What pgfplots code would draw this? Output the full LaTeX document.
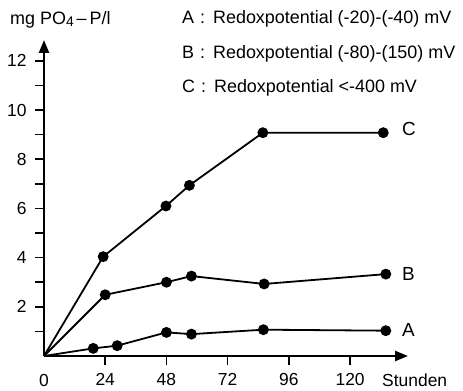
\documentclass[border=0pt]{standalone}
\usepackage{fontspec}
\setmainfont{Liberation Sans}
\usepackage{pgfplots}
\pgfplotsset{compat=1.18}
\usetikzlibrary{arrows.meta}
\begin{document}
\begin{tikzpicture}[x=1bp,y=1bp]
\useasboundingbox (0,0) rectangle (463,390);
\begin{axis}[
  at={(44bp,34bp)}, anchor=origin,
  scale only axis, width=364bp, height=316bp,
  xmin=0, xmax=142.7, ymin=0, ymax=12.85,
  axis lines=left,
  axis line style={line width=2.4bp, -{Triangle[length=13bp,width=10bp]}},
  tick align=outside,
  major tick length=9bp, minor tick length=9bp,
  tick style={line width=1.6bp, black},
  xtick={24,48,72,96,120},
  ytick={2,4,6,8,10,12},
  minor ytick={1,3,5,7,9,11},
  /pgf/number format/assume math mode=true,
  ticklabel style={font=\fontsize{17.5}{17.5}\selectfont},
  xticklabel style={yshift=-5bp},
  yticklabel style={xshift=-5bp},
  clip=false,
]
\addplot[black, line width=1.8bp, mark=*, mark size=4.5bp, mark indices={2,3,4,5,6,7}] coordinates {
(0,0) (19.3,0.31) (28.7,0.42) (48,0.96) (57.8,0.89) (86,1.07) (134,1.03)};
\addplot[black, line width=1.8bp, mark=*, mark size=4.5bp, mark indices={2,3,4,5,6}] coordinates {
(0,0) (24,2.49) (48,3.0) (57.8,3.25) (86.3,2.93) (134,3.33)};
\addplot[black, line width=1.8bp, mark=*, mark size=4.5bp, mark indices={2,3,4,5,6}] coordinates {
(0,0) (23.2,4.04) (47.8,6.1) (57,6.94) (85.8,9.08) (133,9.08)};
\node[anchor=west, inner sep=0, font=\fontsize{19}{19}\selectfont] at (axis cs:140.3,1.06) {A};
\node[anchor=west, inner sep=0, font=\fontsize{19}{19}\selectfont] at (axis cs:140.3,3.33) {B};
\node[anchor=west, inner sep=0, font=\fontsize{19}{19}\selectfont] at (axis cs:140.3,9.25) {C};
\end{axis}
\node[anchor=base, font=\fontsize{17.5}{17.5}\selectfont] at (44,4) {0};
\node[anchor=base west, inner sep=0, font=\fontsize{17.5}{17.5}\selectfont] at (382,4) {Stunden};
\node[anchor=base west, inner sep=0, font=\fontsize{18}{18}\selectfont] at (10,366) {mg PO\raisebox{-0.25ex}{\fontsize{14}{14}\selectfont 4}\,–\,P/l};
\node[anchor=base west, inner sep=0, font=\fontsize{18}{18}\selectfont] at (182,367) {A\hspace{6bp}:\hspace{3bp} Redoxpotential (-20)-(-40) mV};
\node[anchor=base west, inner sep=0, font=\fontsize{18}{18}\selectfont] at (182,332) {B\hspace{6bp}:\hspace{3bp} Redoxpotential (-80)-(150) mV};
\node[anchor=base west, inner sep=0, font=\fontsize{18}{18}\selectfont] at (182,298) {C\hspace{6bp}:\hspace{3bp} Redoxpotential <-400 mV};
\end{tikzpicture}
\end{document}
